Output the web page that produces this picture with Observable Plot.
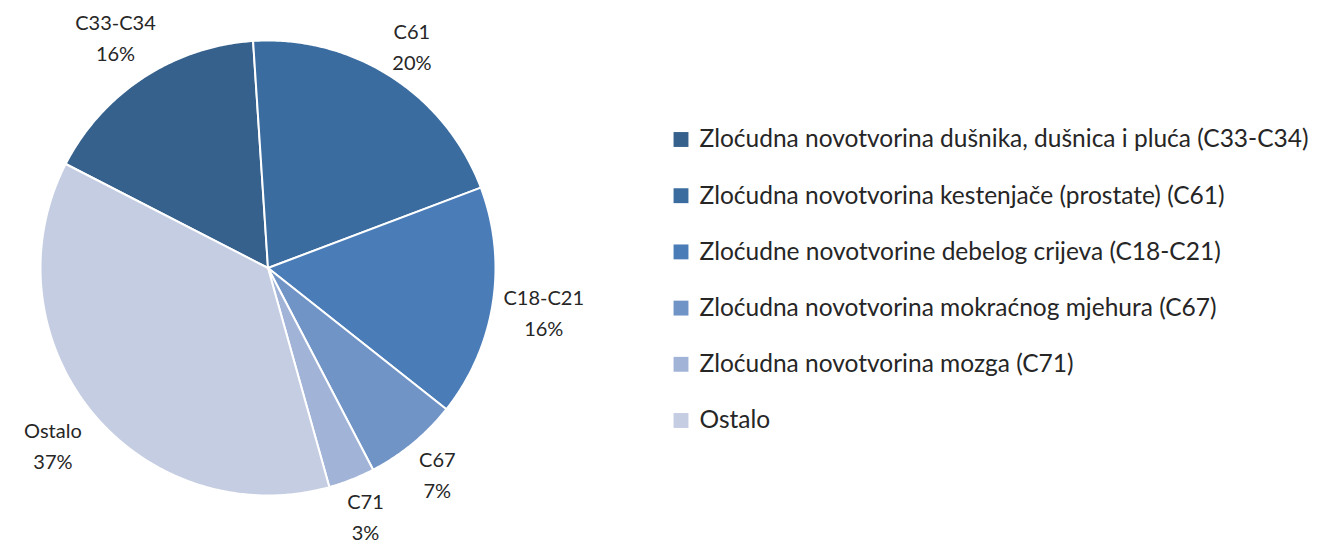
<!DOCTYPE html>
<html>
<head>
<meta charset="utf-8">
<script src="https://cdn.jsdelivr.net/npm/d3@7"></script>
<script src="https://cdn.jsdelivr.net/npm/@observablehq/plot@0.6"></script>
<style>
  html, body { margin: 0; padding: 0; background: #fff; }
  #chart svg { display: block; }
</style>
</head>
<body>
<div id="chart"></div>
<script>
// ---- data ----
const codes = ["C33-C34", "C61", "C18-C21", "C67", "C71", "Ostalo"];
const legendLabels = [
  "Zloćudna novotvorina dušnika, dušnica i pluća (C33-C34)",
  "Zloćudna novotvorina kestenjače (prostate) (C61)",
  "Zloćudne novotvorine debelog crijeva (C18-C21)",
  "Zloćudna novotvorina mokraćnog mjehura (C67)",
  "Zloćudna novotvorina mozga (C71)",
  "Ostalo"
];
const shares = [16.4, 20.3, 16.4, 6.7, 3.3, 36.9];
const colors = ["#36618c", "#3a6ca0", "#4a7db8", "#7194c7", "#a1b4d8", "#c5cde3"];

// ---- layout ----
const W = 1317, H = 543;
const cx = 267.5, cy = 267.5, R = 227.5;
const startDeg = -62.8;
const font = "Lato, 'Open Sans', sans-serif";

const pie = d3.pie().sort(null).value(d => d.value)
  .startAngle(startDeg * Math.PI / 180)
  .endAngle((startDeg + 360) * Math.PI / 180);
const slices = pie(codes.map((c, i) => ({code: c, value: shares[i], color: colors[i], label: legendLabels[i]})));

function polar(a, r) { return [cx + r * Math.sin(a), cy - r * Math.cos(a)]; }

const sliceMarks = slices.map(s => {
  const pts = [{x: cx, y: cy}];
  const n = Math.max(2, Math.ceil((s.endAngle - s.startAngle) / (Math.PI / 360)));
  for (let k = 0; k <= n; k++) {
    const a = s.startAngle + (s.endAngle - s.startAngle) * k / n;
    const [x, y] = polar(a, R);
    pts.push({x, y});
  }
  return Plot.line(pts, {x: "x", y: "y", fill: s.data.color, stroke: "white", strokeWidth: 2, strokeLinejoin: "round", curve: "linear-closed"});
});

// data labels outside
const labelSize = 20;
const labels = slices.map(s => {
  const a = (s.startAngle + s.endAngle) / 2;
  const pct = Math.round(s.data.value) + "%";
  const w = Math.max(s.data.code.length, pct.length) * labelSize * 0.55;
  const h = 46;
  const ux = Math.sin(a), uy = -Math.cos(a);
  const d = R + 10 + (w / 2) * Math.abs(ux) + (h / 2) * Math.abs(uy);
  return {text: s.data.code + "\n" + pct, x: cx + d * ux, y: cy + d * uy};
});

// legend
const legendX = 680.5, legendTextX = 699, legendY0 = 139, legendStep = 56.2;
const legend = slices.map((s, i) => ({
  label: s.data.label, color: s.data.color,
  y: legendY0 + i * legendStep
}));

const chart = Plot.plot({
  width: W, height: H, margin: 0,
  x: {domain: [0, W], range: [0, W], axis: null},
  y: {domain: [0, H], range: [0, H], axis: null},
  style: {fontFamily: font, background: "white"},
  marks: [
    ...sliceMarks,
    Plot.text(labels, {x: "x", y: "y", text: "text", fontSize: labelSize, fill: "#262626", lineHeight: 1.55, textAnchor: "middle"}),
    Plot.dot(legend, {x: () => legendX, y: "y", symbol: "square", r: 8.4, fill: d => d.color, stroke: "none"}),
    Plot.text(legend, {x: () => legendTextX, y: "y", text: "label", textAnchor: "start", fontSize: 24.5, fill: "#262626"})
  ]
});
document.getElementById("chart").appendChild(chart);
</script>
</body>
</html>
